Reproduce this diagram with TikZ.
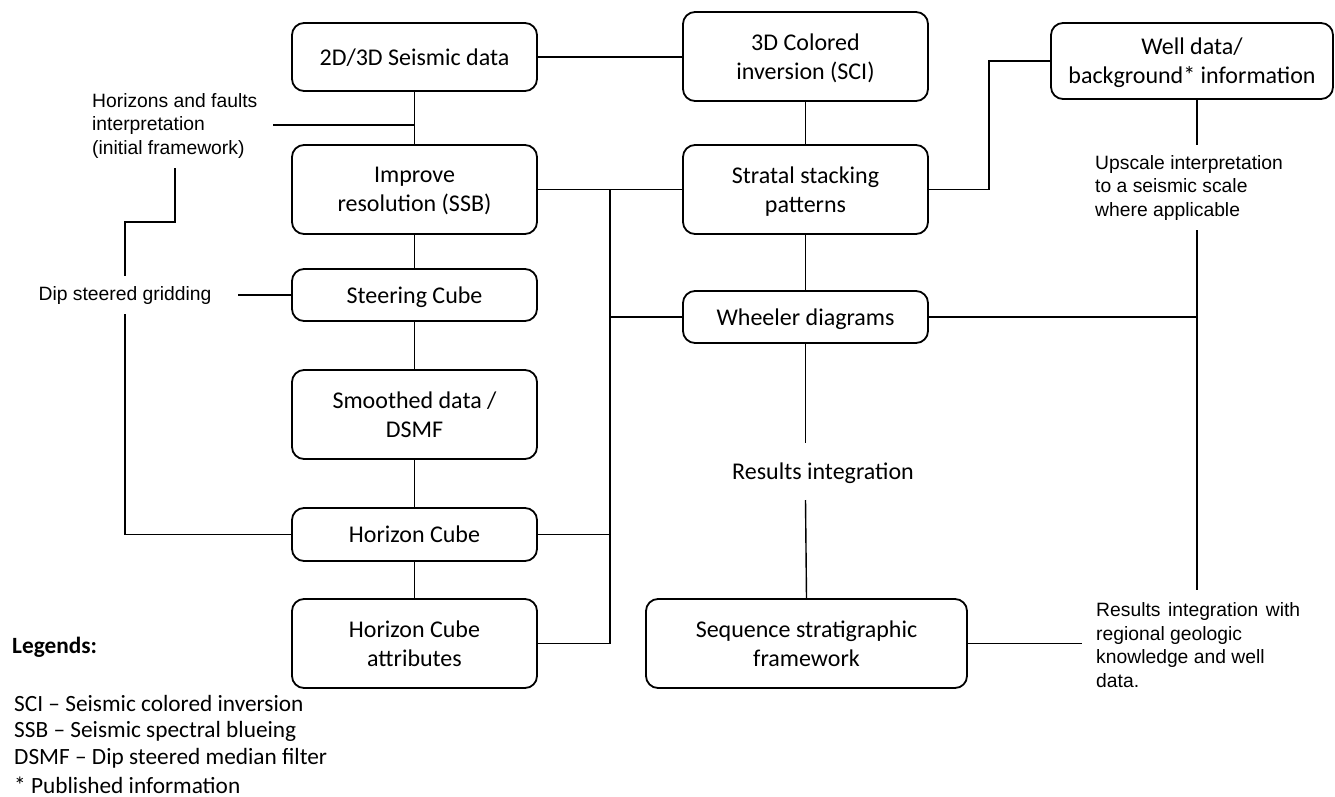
\documentclass[tikz,border=0pt]{standalone}
\usepackage{fontspec}
\setmainfont{Carlito}
\newfontfamily\arialf{Liberation Sans}
\begin{document}
\begin{tikzpicture}[x=1pt,y=-1pt,
  box/.style={draw, line width=1.8pt, rounded corners=12pt, align=center, inner sep=0pt,
    text depth=0pt, font=\fontsize{24}{29}\selectfont},
  conn/.style={line width=1.4pt},
  note/.style={align=left, inner sep=0pt, anchor=west, font=\arialf\fontsize{19.3}{23.5}\selectfont},
  plain/.style={inner sep=0pt, font=\fontsize{24}{29}\selectfont},
  legend/.style={inner sep=0pt, anchor=west, font=\fontsize{23.3}{28}\selectfont}]
\useasboundingbox (0,0) rectangle (1335,797);

% left column
\node[box, minimum width=245pt, minimum height=68pt] (seis) at (414.5,57) {2D/3D Seismic data};
\node[box, minimum width=245pt, minimum height=89pt] (improve) at (414.5,189.5) {Improve\\resolution (SSB)};
\node[box, minimum width=245pt, minimum height=52pt] (steer) at (414.5,295) {Steering Cube};
\node[box, minimum width=245pt, minimum height=89pt] (smooth) at (414.5,414.5) {Smoothed data /\\DSMF};
\node[box, minimum width=245pt, minimum height=53pt] (hcube) at (414.5,534.5) {Horizon Cube};
\node[box, minimum width=245pt, minimum height=89pt] (hattr) at (414.5,643.5) {Horizon Cube\\attributes};

% middle column
\node[box, minimum width=245pt, minimum height=89pt] (cinv) at (805.5,56.5) {3D Colored\\inversion (SCI)};
\node[box, minimum width=245pt, minimum height=89pt] (stratal) at (805.5,189.5) {Stratal stacking\\patterns};
\node[box, minimum width=245pt, minimum height=52pt] (wheeler) at (805.5,317) {Wheeler diagrams};
\node[plain] (resint) at (823,473) {Results integration};
\node[box, minimum width=321pt, minimum height=89pt] (seq) at (806.5,643.5) {Sequence stratigraphic\\framework};

% right column
\node[box, minimum width=282pt, minimum height=76pt] (well) at (1192,61) {Well data/\\background* information};

% annotations
\node[note] (horiz) at (92,126) {Horizons and faults\\interpretation\\(initial framework)};
\node[note, anchor=center] (dip) at (125,296) {Dip steered gridding};
\node[note] (upscale) at (1095,188) {Upscale interpretation\\to a seismic scale\\where applicable};
\node[note] (resreg) at (1096,645) {\makebox[204pt][s]{Results integration with}\\regional geologic\\knowledge and well\\data.};

% legend
\node[legend] (leghead) at (12,647) {\bfseries Legends:};
\node[legend] (leg1) at (14,703) {SCI – Seismic colored inversion};
\node[legend] (leg2) at (14,731) {SSB – Seismic spectral blueing};
\node[legend] (leg3) at (14,758.5) {DSMF – Dip steered median filter};
\node[legend] (leg4) at (14,785.5) {* Published information};

% free-end coordinates
\coordinate (hzA) at (273,125);
\coordinate (hzJ) at (414.5,125);
\coordinate (hzB) at (175,168);
\coordinate (hzC) at (125,222);
\coordinate (dipT) at (125,276);
\coordinate (dipB) at (125,314);
\coordinate (dipR) at (238,295);
\coordinate (bus) at (610,189.5);
\coordinate (elb) at (989,189.5);
\coordinate (vx) at (1197,0);
\coordinate (upT) at (1197,145);
\coordinate (upB) at (1197,230);
\coordinate (vBot) at (1197,590);
\coordinate (riT) at (805.5,443);
\coordinate (riB) at (805.5,500);
\coordinate (seqR) at (1082,643.5);

% connectors: left column
\draw[conn] (seis.east) -- (seis.east -| cinv.west);
\draw[conn] (seis.south) -- (improve.north);
\draw[conn] (hzA) -- (hzJ);
\draw[conn] (hzB) |- (hzC) -- (dipT);
\draw[conn] (dipR) -- (steer.west);
\draw[conn] (dipB) |- (hcube.west);
\draw[conn] (improve.south) -- (steer.north);
\draw[conn] (steer.south) -- (smooth.north);
\draw[conn] (smooth.south) -- (hcube.north);
\draw[conn] (hcube.south) -- (hattr.north);

% bus
\draw[conn] (improve.east) -- (stratal.west);
\draw[conn] (hattr.east) -| (bus);
\draw[conn] (hcube.east) -- (hcube.east -| bus);
\draw[conn] (wheeler.west) -- (wheeler.west -| bus);

% middle column
\draw[conn] (cinv.south) -- (stratal.north);
\draw[conn] (stratal.south) -- (wheeler.north);
\draw[conn] (wheeler.south) -- (riT);
\draw[conn] (riB) -- (seq.north);
\draw[conn] (seq.east) -- (seqR);

% right column
\draw[conn] (stratal.east) -- (elb) |- (well.west);
\draw[conn] (well.south -| vx) -- (upT);
\draw[conn] (upB) -- (vBot);
\draw[conn] (wheeler.east) -- (wheeler.east -| vx);
\end{tikzpicture}
\end{document}
